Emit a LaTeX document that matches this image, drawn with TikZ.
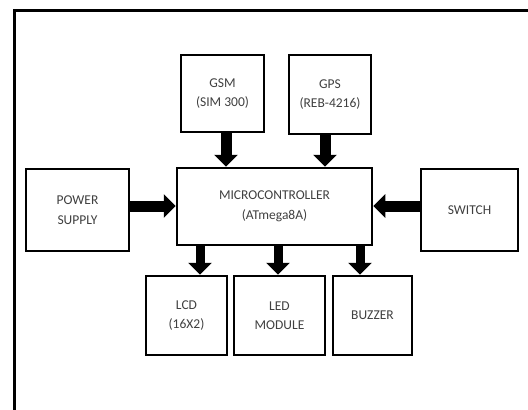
\documentclass[tikz,border=0pt]{standalone}
\usepackage{fontspec}
\setmainfont{Carlito}
\usetikzlibrary{arrows.meta}
\definecolor{txt}{HTML}{404040}
\tikzset{
  blk/.style={draw=black, line width=2.5pt, font=\fontsize{13.5}{19.5}\selectfont, text=txt, align=center, inner sep=0pt},
  fat/.style={line width=11pt, -{Triangle[length=12pt, width=23pt]}},
}
\begin{document}
\begin{tikzpicture}[x=1pt, y=-1pt]
\useasboundingbox (0,0) rectangle (528,410);
\clip (0,0) rectangle (528,410);
\fill[white] (0,0) rectangle (528,410);
\draw[line width=3pt] (14,420) -- (14,10) -- (540,10);
% boxes: centre and size
\node[blk, minimum width=83pt, minimum height=77pt] (gsm) at (222.5,93.5) {GSM\\(SIM 300)};
\node[blk, minimum width=82pt, minimum height=79pt] (gps) at (330,94.5) {GPS\\(REB-4216)};
\node[blk, minimum width=195pt, minimum height=77pt] (mcu) at (274.5,206.5) {MICROCONTROLLER\\(ATmega8A)};
\node[blk, minimum width=103pt, minimum height=82pt] (pwr) at (77.5,210) {POWER\\SUPPLY};
\node[blk, minimum width=97pt, minimum height=82pt] (sw) at (469.5,210) {SWITCH};
\node[blk, minimum width=81pt, minimum height=79pt] (lcd) at (186.5,315.5) {LCD\\(16X2)};
\node[blk, minimum width=91pt, minimum height=79pt] (led) at (279.5,315.5) {LED\\MODULE};
\node[blk, minimum width=79pt, minimum height=79pt] (bz) at (372.5,315.5) {BUZZER};
% arrows
\draw[fat] (gsm.south -| 226,0) -- (mcu.north -| 226,0);
\draw[fat] (gps.south -| 325,0) -- (mcu.north -| 325,0);
\draw[fat] (pwr.east |- 0,206) -- (mcu.west |- 0,206);
\draw[fat] (sw.west |- 0,206) -- (mcu.east |- 0,206);
\draw[fat, line width=9pt] (mcu.south -| 200,0) -- (lcd.north -| 200,0);
\draw[fat, line width=9pt] (mcu.south -| 278,0) -- (led.north -| 278,0);
\draw[fat, line width=9pt] (mcu.south -| 360,0) -- (bz.north -| 360,0);
\end{tikzpicture}
\end{document}
